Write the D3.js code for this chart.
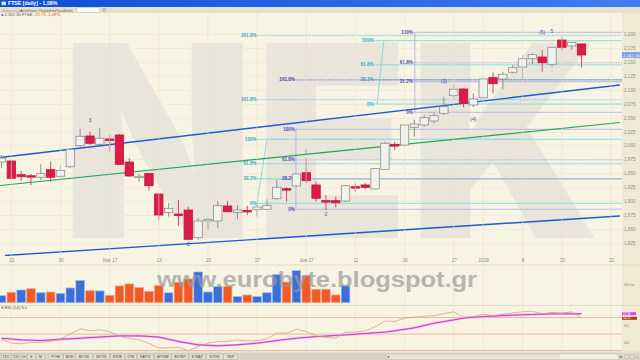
<!DOCTYPE html>
<html>
<head>
<meta charset="utf-8">
<script src="https://cdn.jsdelivr.net/npm/d3@7/dist/d3.min.js"></script>
<style>
  html, body { margin: 0; padding: 0; background: #f8f4e3; overflow: hidden; }
  svg { display: block; font-family: "Liberation Sans", Arial, sans-serif; }
</style>
</head>
<body>
<svg id="chart" width="640" height="360"></svg>
<script>
// daily candles, index 0 = 20 Oct 2017
const opens = [1970.3,1972.1,1947.5,1945.7,1942.9,1956.5,1944.7,1961.9,1999.6,2017.0,
  2002.1,2011.6,2018.8,1970.3,1942.2,1950.0,1912.9,1879.4,1877.0,1884.2,
  1834.5,1865.4,1864.5,1891.4,1879.7,1883.3,1885.1,1885.5,1904.5,1922.4,
  1927.3,1951.1,1929.1,1900.9,1900.9,1900.3,1926.0,1929.1,1921.9,1957.2,
  2002.1,2000.8,2032.6,2036.7,2043.9,2057.7,2089.3,2101.3,2072.6,2085.7,
  2121.6,2119.3,2131.3,2140.8,2155.7,2158.7,2145.6,2189.2,2178.5,2182.1];
const closes = [1977.5,1941.1,1943.9,1943.9,1949.3,1942.9,1955.4,1993.1,2016.4,2003.9,
  2012.9,2009.3,1966.2,1945.2,1944.7,1927.8,1875.2,1887.2,1875.2,1831.6,
  1864.5,1867.2,1891.9,1881.1,1884.2,1881.5,1889.6,1892.6,1924.9,1920.1,
  1948.8,1936.8,1905.2,1898.5,1897.3,1927.8,1924.2,1924.9,1958.3,2003.9,
  1999.0,2036.7,2038.5,2049.8,2053.4,2069.5,2100.8,2075.6,2083.4,2119.3,
  2110.8,2127.7,2139.5,2155.7,2162.9,2148.5,2176.1,2176.1,2185.1,2162.3];
const highs = [1982.9,1973.9,1954.2,1948.8,1966.7,1970.9,1964.9,1993.6,2029.5,2024.7,
  2030.8,2018.8,2020.6,1977.0,1948.8,1951.1,1914.2,1896.2,1902.1,1890.1,
  1869.8,1869.8,1900.3,1900.3,1893.2,1891.9,1896.2,1903.4,1938.0,1924.9,
  1948.8,1977.0,1935.0,1911.1,1908.1,1929.1,1932.1,1932.1,1959.0,2006.7,
  2006.7,2036.7,2045.7,2054.7,2058.8,2087.5,2108.5,2102.6,2093.6,2120.5,
  2131.3,2132.4,2144.4,2162.3,2165.4,2171.3,2177.2,2195.1,2186.2,2182.1];
const lows = [1959.6,1939.8,1936.2,1929.1,1938.0,1935.0,1938.0,1959.0,1997.8,2000.8,
  2000.8,1988.8,1964.9,1943.9,1935.0,1918.8,1866.3,1872.2,1855.5,1830.4,
  1830.4,1848.3,1852.4,1881.1,1867.5,1875.2,1872.2,1884.2,1902.1,1899.1,
  1926.0,1932.1,1899.1,1884.2,1889.0,1899.1,1917.0,1921.3,1921.3,1956.0,
  1991.8,1997.8,2015.7,2033.7,2039.8,2054.7,2084.6,2068.5,2068.5,2083.9,
  2093.6,2100.8,2129.5,2117.5,2145.6,2132.4,2141.3,2171.3,2171.3,2140.2];

// volume in millions (only first 36 sessions shown), 1 = blue, 0 = orange
const volumes = [19,28,34.5,38,27,29,25.5,40,60,32.5,32,20,45.5,51,41,31,47,27,55.5,64.5,
  83.5,29,43.5,44.5,16.5,21,16.5,27,76,56,87,73.5,36.5,36.5,21,46];
const volumeUp = [1,0,1,0,1,0,1,1,1,0,1,0,0,0,0,0,0,1,0,0,1,1,1,0,1,0,1,1,1,0,1,0,0,0,0,1];

// oscillator and its average
const rsiValues = [41.8,39.5,39.1,39.9,40.0,40.6,41.9,45.2,48.2,47.0,
  47.6,46.5,43.6,42.4,41.5,39.4,36.5,36.8,37.1,34.8,
  37.5,39.5,40.5,40.5,41.5,40.9,41.1,42.1,45.6,45.6,
  48.0,46.5,43.9,43.0,42.5,46.2,46.2,47.0,49.4,53.0,
  52.6,54.7,55.3,55.8,56.2,57.3,58.5,55.3,55.6,57.1,
  56.2,57.0,57.9,58.5,58.9,57.3,58.1,57.7,58.5,54.7];
const rsiAverage = [42.5,42.0,41.5,41.3,41.1,41.5,41.9,42.2,42.5,42.9,
  43.2,43.6,43.9,43.9,43.9,43.6,43.2,41.9,40.5,39.5,
  38.5,38.2,37.9,38.2,38.5,39.0,39.5,40.3,41.1,41.8,
  42.5,43.0,43.5,43.8,44.2,44.5,44.9,45.4,45.8,46.2,
  47.0,47.9,48.8,50.2,51.6,52.6,53.6,54.7,55.2,55.6,
  55.9,56.2,56.5,56.7,56.9,57.1,57.3,57.3,57.3,57.3];
const oscLevels = [55, 45, 35];
const oscTicks = [50, 40];

// axes
const xTickIndex = [1, 6, 11, 16, 21, 26, 31, 36, 41, 46, 49, 53, 57, 62];
const xTickLabels = ['23', '30', 'Νοε 17', '13', '20', '27', 'Δεκ 17', '11', '18', '27', '2018', '8', '15', '22'];
const priceTicks = [1825, 1850, 1875, 1900, 1925, 1950, 1975, 2000, 2025, 2050, 2075, 2100, 2125, 2150, 2175, 2200];

// trend channel: [index, price] end points
const channelUpper = [[-0.15, 1978.4], [62.9, 2108.5]];
const channelMiddle = [[-0.15, 1928.2], [62.9, 2041.2]];
const channelLower = [[0.36, 1802.6], [62.9, 1873.4]];

// fibonacci tools
const fibStart = [26.0, 37.9, 29.9, 41.9];
const fibLow = [1896.2, 2074.4, 1885.5, 2059.5];
const fibHigh = [2011.1, 2188.0, 2029.0, 2203.0];
const fibRatios = [[0, 0.382, 0.618, 1, 1.618, 2.618], [0, 0.382, 0.618, 1], [0, 0.382, 0.618, 1, 1.618], [0, 0.382, 0.618, 1]];
const fibConnector = [[27.0, 26.0], [38.9, 38.2], [29.95, 29.95], [42.05, 42.05]];
const fibKind = ['cyan', 'cyan', 'violet', 'violet'];

// wave labels
const waveText = ['3', 'C', '1', '2', '(3)', '(4)', '(5)', '5'];
const waveIndex = [9, 19, 31, 33, 45, 48, 55, 56];
const wavePrice = [2046.0, 1823.2, 1988.8, 1876.5, 2115.7, 2047.5, 2203.1, 2205.4];

const toolbarTabs = ['FTSE', 'ΜΟΗ', 'ΒΙΟΧΚ', 'ΜΥΤΙΛ', 'ΕΛΠΕ', 'ΟΤΕ', 'ΚΑΡΤΖ', 'ΔΡΟΜΕ', 'ΕΚΤΕΡ', 'ΕΥΔΑΠ', 'ΕΥΠΙΚ', 'ΠΕΙΡ'];

const svg = d3.select('#chart');
const plotRight = 622;
const mainTop = 13, mainBottom = 256;

const x = d3.scaleLinear().domain([0, 59]).range([1.5, 581.5]);
const y = d3.scaleLinear().domain([1825, 2200]).range([243, 34]);
const yVol = d3.scaleLinear().domain([0, 50]).range([302.7, 284.3]);
const yOsc = d3.scaleLinear().domain([35, 55]).range([350.6, 317.6]);

const candles = opens.map((o, i) => ({ i, o, c: closes[i], h: highs[i], l: lows[i] }));

// backgrounds
svg.append('rect').attr('width', 640).attr('height', 360).attr('fill', '#f8f4e3');
svg.append('rect').attr('x', plotRight).attr('y', mainTop).attr('width', 640 - plotRight).attr('height', 339)
  .attr('fill', '#f0ead5');

const defs = svg.append('defs');
defs.append('clipPath').attr('id', 'mainClip').append('rect')
  .attr('x', 0).attr('y', mainTop).attr('width', plotRight).attr('height', mainBottom - mainTop);
const grad = defs.append('linearGradient').attr('id', 'titleGrad').attr('x1', 0).attr('x2', 1);
grad.append('stop').attr('offset', '0%').attr('stop-color', '#0c4fd6');
grad.append('stop').attr('offset', '100%').attr('stop-color', '#3d7ef2');

const main = svg.append('g').attr('clip-path', 'url(#mainClip)');

// watermark
main.append('text')
  .attr('x', 61).attr('y', 238)
  .attr('textLength', 539).attr('lengthAdjust', 'spacingAndGlyphs')
  .style('font-family', 'Inter, "DejaVu Sans", sans-serif')
  .style('font-weight', 900).style('font-size', '268px')
  .attr('fill', '#e9e5da')
  .text('NEK');

// grid
main.append('g').selectAll('line').data(priceTicks).join('line')
  .attr('x1', 0).attr('x2', plotRight)
  .attr('y1', d => Math.round(y(d)) + 0.5).attr('y2', d => Math.round(y(d)) + 0.5)
  .attr('stroke', '#ece6d2').attr('stroke-width', 0.6);
svg.append('g').selectAll('line').data(xTickIndex).join('line')
  .attr('x1', d => x(d)).attr('x2', d => x(d))
  .attr('y1', mainTop).attr('y2', 352)
  .attr('stroke', '#e9e3cc').attr('stroke-width', 0.6);

// fibonacci tools
const fibColors = {
  cyan: { line: '#7fd6e2', text: '#2aa9c9' },
  violet: { line: '#b4b2dc', text: '#4b4bb4' }
};
const pctFormat = r => {
  const v = Math.round(r * 1000) / 10;
  return (Number.isInteger(v) ? v : v.toFixed(1)) + '%';
};
fibStart.forEach((s, k) => {
  const col = fibColors[fibKind[k]];
  const levels = fibRatios[k].map(r => ({ r, p: fibLow[k] + (fibHigh[k] - fibLow[k]) * r }));
  const g = main.append('g');
  g.selectAll('line').data(levels).join('line')
    .attr('x1', x(s)).attr('x2', plotRight)
    .attr('y1', d => y(d.p)).attr('y2', d => y(d.p))
    .attr('stroke', d => (d.r > 1 ? (fibKind[k] === 'cyan' ? '#6ccbe0' : '#6e6ec8') : col.line))
    .attr('stroke-width', d => (d.r === 0.382 ? 1.1 : 0.9))
    .attr('stroke-dasharray', d => (d.r > 1 || (fibKind[k] === 'violet' && d.r === 0.618) ? '1.5,1' : null));
  g.selectAll('text').data(levels).join('text')
    .attr('x', x(s) - 0.5).attr('y', d => y(d.p) + 1.6)
    .attr('text-anchor', 'end')
    .style('font-size', '4.6px').style('font-weight', 'bold')
    .attr('fill', d => (d.r > 1 && fibKind[k] === 'violet' ? '#3c3ca8' : col.text))
    .text(d => pctFormat(d.r));
  g.append('line')
    .attr('x1', x(fibConnector[k][0])).attr('y1', y(fibHigh[k]))
    .attr('x2', x(fibConnector[k][1])).attr('y2', y(fibLow[k]))
    .attr('stroke', col.line).attr('stroke-width', 0.9);
});

// channel
const chLine = d3.line().x(d => x(d[0])).y(d => y(d[1]));
main.append('path').attr('d', chLine(channelMiddle)).attr('fill', 'none')
  .attr('stroke', '#22a75a').attr('stroke-width', 1.2);
[channelUpper, channelLower].forEach(c => {
  main.append('path').attr('d', chLine(c)).attr('fill', 'none')
    .attr('stroke', '#1c5cd0').attr('stroke-width', 1.4);
});

// candles
const bodyW = 8.4;
const cg = main.append('g');
cg.selectAll('line').data(candles).join('line')
  .attr('x1', d => x(d.i)).attr('x2', d => x(d.i))
  .attr('y1', d => y(d.h)).attr('y2', d => y(d.l))
  .attr('stroke', d => (d.c < d.o ? '#d8466a' : '#8f8f8f')).attr('stroke-width', 1);
cg.selectAll('rect').data(candles).join('rect')
  .attr('x', d => x(d.i) - bodyW / 2).attr('width', bodyW)
  .attr('y', d => y(Math.max(d.o, d.c)))
  .attr('height', d => Math.max(1.4, Math.abs(y(d.o) - y(d.c))))
  .attr('fill', d => (d.c < d.o ? '#dc1c48' : '#f1f1f0'))
  .attr('stroke', d => (d.c < d.o ? '#c0173d' : '#8c8c8c')).attr('stroke-width', 0.8);

// wave labels
main.append('g').selectAll('text').data(waveText).join('text')
  .attr('x', (d, i) => x(waveIndex[i])).attr('y', (d, i) => y(wavePrice[i]) + 1.8)
  .attr('text-anchor', 'middle')
  .style('font-size', '5px').attr('fill', '#3a4fc0')
  .text(d => d);

// right price axis
const yAxis = svg.append('g').attr('transform', `translate(${plotRight},0)`)
  .call(d3.axisRight(y).tickValues(priceTicks).tickSize(0).tickPadding(2).tickFormat(d3.format(',')));
yAxis.select('.domain').remove();
yAxis.selectAll('text').style('font-size', '4.6px').attr('fill', '#8d8a80').style('font-family', '"Liberation Sans", Arial');

// last price tag
const lastClose = closes[closes.length - 1];
svg.append('rect').attr('x', plotRight).attr('y', y(lastClose) - 2.8).attr('width', 18).attr('height', 5.6)
  .attr('fill', '#6f9ce6');
svg.append('text').attr('x', plotRight + 1).attr('y', y(lastClose) + 1.6)
  .style('font-size', '4.4px').attr('fill', '#ffffff').text(d3.format(',.2f')(lastClose));

// x axis
const xAxis = svg.append('g').attr('transform', `translate(0,${mainBottom})`)
  .call(d3.axisBottom(x).tickValues(xTickIndex).tickSize(0).tickPadding(3).tickFormat((d, i) => xTickLabels[i]));
xAxis.select('.domain').remove();
xAxis.selectAll('text').style('font-size', '4.6px').attr('fill', '#8d8a80').style('font-family', '"Liberation Sans", Arial');

// pane separators
[265, 305.5, 352].forEach(v => {
  svg.append('line').attr('x1', 0).attr('x2', 640).attr('y1', v).attr('y2', v)
    .attr('stroke', '#ddd6bf').attr('stroke-width', 0.8);
});

// volume
svg.append('g').selectAll('rect').data(volumes).join('rect')
  .attr('x', (d, i) => x(i) - 4.3).attr('width', 8.6)
  .attr('y', d => yVol(d)).attr('height', d => yVol(0) - yVol(d))
  .attr('fill', (d, i) => (volumeUp[i] ? '#3a6fda' : '#f05a26'))
  .attr('stroke', (d, i) => (volumeUp[i] ? '#9bb8f0' : '#f7a384')).attr('stroke-width', 0.7);
svg.append('text').attr('x', 624).attr('y', yVol(50) + 1.5)
  .style('font-size', '4.4px').attr('fill', '#8d8a80').text('50 εκ.');
svg.append('text').attr('x', 157).attr('y', 287)
  .attr('textLength', 320).attr('lengthAdjust', 'spacingAndGlyphs')
  .style('font-size', '22px').style('font-weight', 'bold')
  .attr('fill', '#9a9a9a').attr('opacity', 0.7)
  .text('www.eurobyte.blogspot.gr');

// oscillator
svg.append('g').selectAll('line').data(oscLevels).join('line')
  .attr('x1', 0).attr('x2', plotRight)
  .attr('y1', d => yOsc(d)).attr('y2', d => yOsc(d))
  .attr('stroke', '#dfb49a').attr('stroke-width', 0.9);
const oscLine = d3.line().x((d, i) => x(i)).y(d => yOsc(d));
svg.append('path').attr('d', oscLine(rsiAverage)).attr('fill', 'none')
  .attr('stroke', '#f2b6f0').attr('stroke-width', 2.4);
svg.append('path').attr('d', oscLine(rsiAverage)).attr('fill', 'none')
  .attr('stroke', '#cf35cf').attr('stroke-width', 1);
svg.append('path').attr('d', oscLine(rsiValues)).attr('fill', 'none')
  .attr('stroke', '#c99e74').attr('stroke-width', 0.7);
svg.append('g').selectAll('text').data(oscTicks).join('text')
  .attr('x', 624).attr('y', d => yOsc(d) + 1.5)
  .style('font-size', '4.4px').attr('fill', '#8d8a80').text(d => d);
const lastAvg = rsiAverage[rsiAverage.length - 1];
const lastRsi = rsiValues[rsiValues.length - 1];
svg.append('rect').attr('x', plotRight).attr('y', yOsc(lastAvg) - 1.6).attr('width', 14).attr('height', 3)
  .attr('fill', '#e23fe0');
svg.append('rect').attr('x', plotRight).attr('y', yOsc(lastRsi) - 1.3).attr('width', 15).attr('height', 3)
  .attr('fill', '#b2391a');
svg.append('text').attr('x', plotRight + 1).attr('y', yOsc(lastAvg) + 1)
  .style('font-size', '3px').attr('fill', '#fff').text(d3.format('.2f')(lastAvg).replace('.', ','));
svg.append('text').attr('x', plotRight + 1).attr('y', yOsc(lastRsi) + 1.3)
  .style('font-size', '3px').attr('fill', '#fff').text(d3.format('.2f')(lastRsi).replace('.', ','));
svg.append('rect').attr('x', 1.5).attr('y', 306.8).attr('width', 1.6).attr('height', 1.6).attr('fill', '#c0262c');
svg.append('text').attr('x', 4.5).attr('y', 308.6)
  .style('font-size', '4.2px').attr('fill', '#555').text('RSI (14) 9,0');

// title bar, menu, legend
svg.append('rect').attr('width', 640).attr('height', 7).attr('fill', 'url(#titleGrad)');
svg.append('rect').attr('x', 1.5).attr('y', 1.6).attr('width', 4.5).attr('height', 3.6).attr('fill', '#dfe8fb');
svg.append('text').attr('x', 8).attr('y', 5.4).style('font-size', '5.2px').style('font-weight', 'bold')
  .attr('fill', '#ffffff').text('FTSE [daily] - 1,08%');
svg.append('rect').attr('y', 7).attr('width', 640).attr('height', 6).attr('fill', '#e6e0cc');
const menuItems = ['Διάγραμμα', 'Ανάλυση', 'Περίοδος', 'Προβολή'];
const menuX = [2, 20, 38.5, 55.5];
svg.append('g').selectAll('text').data(menuItems).join('text')
  .attr('x', (d, i) => menuX[i]).attr('y', 11.6)
  .style('font-size', '4.3px').attr('fill', (d, i) => (i === 0 ? '#a8a496' : '#6a6658')).text(d => d);
svg.append('rect').attr('x', 77).attr('y', 7.8).attr('width', 22).attr('height', 4.6)
  .attr('fill', '#ffffff').attr('stroke', '#b8b2a0').attr('stroke-width', 0.4);
svg.append('circle').attr('cx', 104).attr('cy', 9.8).attr('r', 1.5).attr('fill', 'none')
  .attr('stroke', '#7d8aa8').attr('stroke-width', 0.6);
svg.append('rect').attr('x', 1.5).attr('y', 14.2).attr('width', 1.6).attr('height', 1.6).attr('fill', '#2a5ad0');
const legend = svg.append('text').attr('x', 4.5).attr('y', 16).style('font-size', '4.2px');
legend.append('tspan').attr('fill', '#555').text(d3.format(',.2f')(lastClose) + ' FTSE ');
legend.append('tspan').attr('fill', '#e0762a').text('-23.78 ');
legend.append('tspan').attr('fill', '#e04a2a').text('-1,08%');

// bottom toolbar
svg.append('rect').attr('y', 352.5).attr('width', 640).attr('height', 7.5).attr('fill', '#d9d4c3');
const smallBtns = ['ΣΣΟ', 'ΣΣΟ', 'Η', 'Ε', 'Μ'];
const smallX = [1, 11.5, 22, 27.5, 36.5];
const smallW = [10, 10, 4.5, 8, 8];
smallBtns.forEach((t, i) => {
  svg.append('rect').attr('x', smallX[i]).attr('y', 354).attr('width', smallW[i]).attr('height', 5.5)
    .attr('fill', '#e4e0d2').attr('stroke', '#aaa596').attr('stroke-width', 0.4);
  svg.append('text').attr('x', smallX[i] + smallW[i] / 2).attr('y', 358).attr('text-anchor', 'middle')
    .style('font-size', '3.4px').attr('fill', '#444').text(t);
});
let tabX = 49;
toolbarTabs.forEach(t => {
  const w = t.length * 2.6 + 3.5;
  svg.append('rect').attr('x', tabX).attr('y', 354).attr('width', w).attr('height', 5.5)
    .attr('fill', '#e4e0d2').attr('stroke', '#aaa596').attr('stroke-width', 0.4);
  svg.append('text').attr('x', tabX + w / 2).attr('y', 358).attr('text-anchor', 'middle')
    .style('font-size', '3.4px').attr('fill', '#444').text(t);
  tabX += w + 0.8;
});
svg.append('rect').attr('x', 386).attr('y', 354).attr('width', 233).attr('height', 5.5)
  .attr('fill', '#e7e3d5').attr('stroke', '#b4af9f').attr('stroke-width', 0.4);
svg.append('rect').attr('x', 560).attr('y', 354.4).attr('width', 57).attr('height', 4.7).attr('fill', '#f3f0e6');
svg.append('text').attr('x', 387).attr('y', 358.2).style('font-size', '3.6px').attr('fill', '#555').text('◂');
svg.append('text').attr('x', 619.5).attr('y', 358.2).style('font-size', '3.6px').attr('fill', '#555').text('▸');
[627, 632].forEach(cx => {
  svg.append('circle').attr('cx', cx).attr('cy', 356.8).attr('r', 2).attr('fill', '#eeeae0')
    .attr('stroke', '#8b887e').attr('stroke-width', 0.4);
});
svg.append('text').attr('x', 635.5).attr('y', 358.2).style('font-size', '3.6px').attr('fill', '#555').text('↔');
</script>
</body>
</html>
